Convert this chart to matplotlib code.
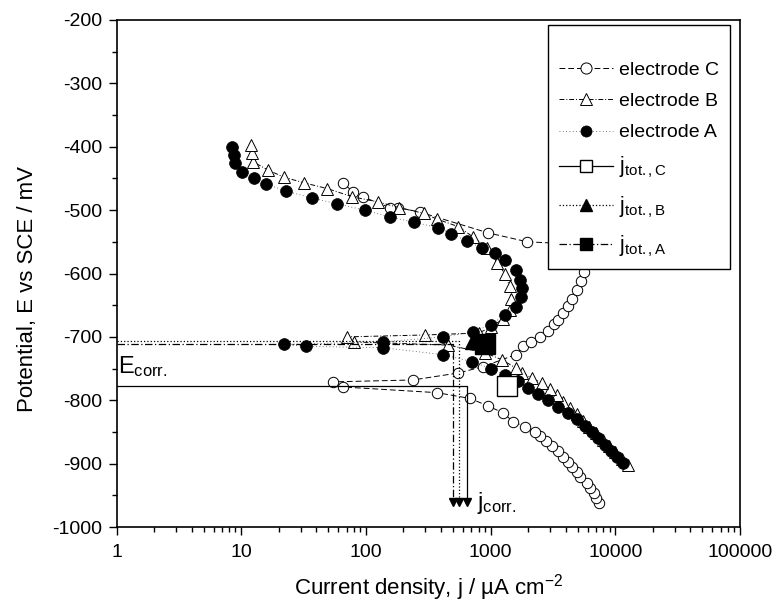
import matplotlib
matplotlib.use("Agg")
import matplotlib.pyplot as plt
from matplotlib.ticker import FixedLocator, NullFormatter, MultipleLocator

plt.rcParams['font.family'] = ['Liberation Sans', 'DejaVu Sans']
plt.rcParams['mathtext.fontset'] = 'custom'
plt.rcParams['mathtext.rm'] = 'Liberation Sans'
plt.rcParams['mathtext.it'] = 'Liberation Sans'
plt.rcParams['axes.unicode_minus'] = False

# electrode A (filled circles), cathodic end -> anodic end
A_j = [11500, 10300, 9200, 8200, 7300, 6500, 5700, 4900, 4200, 3500,
       2900, 2400, 2000, 1650, 1300, 1000, 710, 415, 136, 33,
       22, 136, 415, 725, 1000, 1310, 1590, 1760, 1800, 1730,
       1590, 1310, 1090, 855, 650, 480, 380, 244, 156, 98,
       59, 37, 23, 15.9, 12.7, 10.2, 9.0, 8.7, 8.5]
A_E = [-899, -890, -880, -870, -860, -850, -840, -830, -820, -810,
       -800, -790, -780, -770, -760, -750, -739, -728, -717, -715,
       -712, -708, -700, -692, -681, -665, -653, -637, -623, -610,
       -594, -578, -568, -560, -549, -537, -528, -519, -511, -500,
       -490, -481, -470, -459, -449, -440, -425, -413, -400]

# electrode B (open triangles)
B_j = [12700, 11300, 10000, 8900, 7900, 7000, 6200, 5500, 4900, 4300,
       3800, 3400, 3000, 2600, 2150, 1800, 1590, 1230, 900, 455,
       81, 71, 297, 800, 1000, 1250, 1440, 1450, 1420, 1300,
       1130, 940, 720, 550, 370, 290, 184, 125, 78, 49,
       32, 22, 16.5, 12.5, 12.2, 12]
B_E = [-902, -892, -882, -872, -862, -852, -842, -832, -822, -812,
       -802, -792, -782, -773, -765, -757, -749, -736, -725, -713,
       -708, -700, -697, -694, -685, -672, -657, -640, -620, -600,
       -583, -560, -542, -526, -514, -505, -496, -487, -479, -466,
       -457, -448, -437, -424, -410, -397]

# electrode C (open circles)
C_j = [7400, 7000, 6700, 6300, 5900, 5250, 4900, 4500, 4150, 3800,
       3450, 3100, 2800, 2500, 2250, 1900, 1520, 1260, 955, 680,
       370, 65, 54, 238, 550, 870, 1590, 1820, 2100, 2500,
       2900, 3200, 3440, 3800, 4150, 4500, 4900, 5300, 5600, 6200,
       5800, 4500, 3200, 1970, 960, 270, 180, 156, 94, 79,
       65]
C_E = [-962, -955, -946, -938, -930, -921, -913, -905, -897, -889,
       -880, -872, -864, -857, -850, -842, -834, -820, -809, -797,
       -788, -779, -771, -768, -757, -747, -728, -715, -708, -700,
       -690, -680, -673, -662, -652, -640, -626, -612, -597, -578,
       -565, -557, -552, -550, -536, -503, -496, -496, -479, -471,
       -457]

# total current points, corrosion potentials and corrosion currents
tot_j = {'C': 1360, 'B': 720, 'A': 910}
E_corr = {'C': -777, 'B': -706, 'A': -712}
j_corr = {'C': 650, 'B': 560, 'A': 500}
j_end = -960

fig = plt.figure(figsize=(7.75, 6.05), dpi=100)
ax = fig.add_axes([116.5/775, 1-527/605, (740-116.5)/775, (527-20)/605])

ax.plot(C_j, C_E, ls=(0, (6, 3)), lw=0.7, color='k', marker='o', ms=7.5,
        mfc='white', mec='k', mew=0.7, label='electrode C')
ax.plot(B_j, B_E, ls=(0, (5, 2, 1, 2)), lw=0.7, color='k', marker='^', ms=8.5,
        mfc='white', mec='k', mew=0.7, label='electrode B')
ax.plot(A_j, A_E, ls=(0, (1, 3)), lw=0.6, color='0.3', marker='o', ms=8.5,
        mfc='k', mec='k', mew=0.5, label='electrode A')

styles = {'C': ('-', 's', 'white'), 'B': (':', '^', 'k'), 'A': ((0, (6, 2, 1, 2)), 's', 'k')}
for key in ['C', 'B', 'A']:
    ls, mk, fc = styles[key]
    ax.plot([1, j_corr[key], j_corr[key]], [E_corr[key], E_corr[key], j_end],
            ls=ls, lw=0.9, color='k')
    ax.plot([j_corr[key]], [j_end], ls='none', marker='v', ms=6, color='k')
    ax.plot([tot_j[key]], [E_corr[key]], ls=ls, lw=0.9, color='k', marker=mk,
            ms=14 if mk == 's' else 11, mfc=fc, mec='k', mew=1.0,
            label=r'$\mathregular{j_{tot.,%s}}$' % key)

ax.set_xscale('log')
ax.set_xlim(1, 100000)
ax.set_ylim(-1000, -200)
ax.xaxis.set_major_locator(FixedLocator([1, 10, 100, 1000, 10000, 100000]))
ax.set_xticklabels(['1', '10', '100', '1000', '10000', '100000'])
ax.xaxis.set_minor_locator(FixedLocator([m * 10**d for d in range(5) for m in range(2, 10)]))
ax.xaxis.set_minor_formatter(NullFormatter())
ax.yaxis.set_major_locator(MultipleLocator(100))
ax.yaxis.set_minor_locator(MultipleLocator(50))
ax.tick_params(which='both', direction='out', labelsize=14, width=1.0)
ax.tick_params(which='major', length=6)
ax.tick_params(which='minor', length=3.5)
ax.tick_params(axis='x', pad=6)
ax.tick_params(axis='y', pad=4)
for s in ax.spines.values():
    s.set_linewidth(1.2)

ax.set_xlabel(r'Current density, j / µA cm$^{\mathregular{-2}}$', fontsize=16, labelpad=8)
ax.set_ylabel('Potential, E vs SCE / mV', fontsize=16)
ax.yaxis.set_label_coords(-0.126, 0.47)

ax.text(1.02, -757, r'$\mathregular{E_{corr.}}$', fontsize=17, va='baseline')
ax.text(780, -962, r'$\mathregular{j_{corr.}}$', fontsize=17, va='center')

leg = ax.legend(loc='upper left', bbox_to_anchor=(548/775, 1-25/605),
                bbox_transform=fig.transFigure, fancybox=False, framealpha=1,
                edgecolor='k', fontsize=14, handlelength=2.8, handletextpad=0.3,
                labelspacing=0.7, borderpad=0.55, borderaxespad=0,
                title=' ', title_fontsize=9)
leg.get_frame().set_linewidth(1.0)
for h in leg.legend_handles:
    h.set_markersize(8)
for t in leg.get_texts()[3:]:
    t.set_fontsize(15.5)

fig.savefig('out.png', dpi=100)
